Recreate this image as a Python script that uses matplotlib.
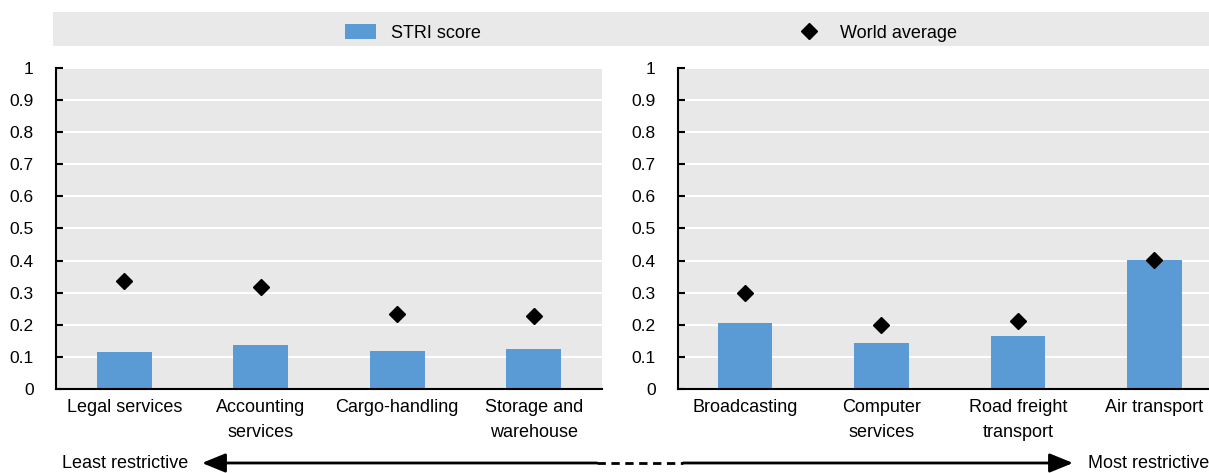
import matplotlib.pyplot as plt
from matplotlib.lines import Line2D
from matplotlib.patches import Patch, Rectangle

plt.rcParams['font.family'] = ['Liberation Sans', 'DejaVu Sans']
plt.rcParams['font.size'] = 13

# data
left_sectors = ['Legal services', 'Accounting\nservices', 'Cargo-handling', 'Storage and\nwarehouse']
left_stri = [0.115, 0.137, 0.118, 0.124]
left_world = [0.335, 0.317, 0.233, 0.227]

right_sectors = ['Broadcasting', 'Computer\nservices', 'Road freight\ntransport', 'Air transport']
right_stri = [0.205, 0.143, 0.165, 0.401]
right_world = [0.298, 0.199, 0.211, 0.402]

yticks = [0, 0.1, 0.2, 0.3, 0.4, 0.5, 0.6, 0.7, 0.8, 0.9, 1]

bar_col = '#5B9BD5'
bg_col = '#E8E8E8'

W, H = 1209, 473
fig = plt.figure(figsize=(W / 100, H / 100), dpi=100)

def px(x0, x1, ytop, ybot):
    return [x0 / W, 1 - ybot / H, (x1 - x0) / W, (ybot - ytop) / H]

ax1 = fig.add_axes(px(56, 602, 68, 389))
ax2 = fig.add_axes(px(678, 1209, 68, 389))

for ax, cats, stri, world, xl in [(ax1, left_sectors, left_stri, left_world, (-0.5, 3.5)),
                                  (ax2, right_sectors, right_stri, right_world, (-0.49, 3.40))]:
    x = range(len(cats))
    ax.set_facecolor(bg_col)
    ax.bar(x, stri, width=0.4, color=bar_col, zorder=2)
    ax.plot(x, world, linestyle='none', marker='D', markersize=8.5, color='black', zorder=3)
    ax.set_ylim(0, 1)
    ax.set_xlim(*xl)
    ax.set_yticks(yticks)
    ax.set_yticklabels(['%g' % v for v in yticks], fontsize=12.5)
    ax.set_xticks(list(x))
    ax.set_xticklabels(cats, linespacing=1.6)
    ax.grid(axis='y', color='white', linewidth=1.5, zorder=1)
    ax.set_axisbelow(True)
    for s in ['top', 'right']:
        ax.spines[s].set_visible(False)
    for s in ['left', 'bottom']:
        ax.spines[s].set_linewidth(1.5)
        ax.spines[s].set_zorder(4)
    ax.tick_params(axis='y', direction='in', length=5, width=1.5, pad=16)
    ax.tick_params(axis='x', length=0, pad=7)

# legend band
fig.patches.append(Rectangle((53 / W, 1 - 46 / H), 1 - 53 / W, 34 / H,
                             transform=fig.transFigure, facecolor='#E9E9E9',
                             edgecolor='none', zorder=0))
handles = [Patch(facecolor=bar_col, edgecolor='none', label='STRI score'),
           Line2D([], [], linestyle='none', marker='D', markersize=8, color='black',
                  label='World average')]
fig.legend(handles=handles, loc='center', bbox_to_anchor=(651 / W, 1 - 33 / H), ncol=2,
           frameon=False, handlelength=1.72, handleheight=0.85, handletextpad=0.83,
           columnspacing=17.3, fontsize=13)

# restrictiveness arrow
ya = 1 - 463 / H
fig.text(62 / W, ya, 'Least restrictive', ha='left', va='center', fontsize=13)
fig.text(1209 / W, ya, 'Most restrictive', ha='right', va='center', fontsize=13)
arrow = dict(arrowstyle='-|>,head_length=1.1,head_width=0.45', lw=2, color='black',
             shrinkA=0, shrinkB=0)
fig.add_artist(plt.Annotation('', xy=(202 / W, ya), xytext=(597 / W, ya),
                              xycoords='figure fraction', arrowprops=arrow))
fig.add_artist(plt.Annotation('', xy=(1073 / W, ya), xytext=(683 / W, ya),
                              xycoords='figure fraction', arrowprops=arrow))
fig.add_artist(Line2D([597 / W, 683 / W], [ya, ya], transform=fig.transFigure,
                      color='black', lw=2, linestyle=(0, (3, 2))))

fig.savefig('out.png', dpi=100)
